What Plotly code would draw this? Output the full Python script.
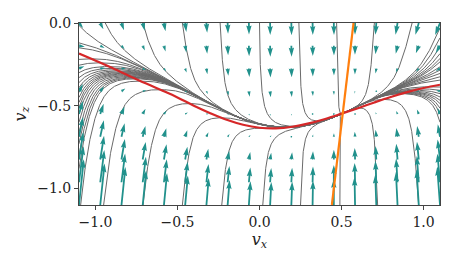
import numpy as np
import plotly.graph_objects as go

# ---------------- data ----------------
x_range = [-1.1, 1.1]
z_range = [-1.1, 0.0]
x_ticks = [-1.0, -0.5, 0.0, 0.5, 1.0]
x_tick_text = ["\u22121.0", "\u22120.5", "0.0", "0.5", "1.0"]
z_ticks = [-1.0, -0.5, 0.0]
z_tick_text = ["\u22121.0", "\u22120.5", "0.0"]

# red curve (terminal manifold)
red_vx = [-1.1, -0.9, -0.75, -0.6, -0.5, -0.4, -0.3, -0.2, -0.1, 0.0, 0.1, 0.2,
          0.3, 0.4, 0.5, 0.6, 0.7, 0.8, 0.9, 1.0, 1.1]
red_vz = [-0.184, -0.27, -0.34, -0.405, -0.45, -0.50, -0.545, -0.585, -0.615, -0.633,
          -0.637, -0.627, -0.607, -0.58, -0.548, -0.515, -0.48, -0.447, -0.418, -0.393, -0.373]

# orange straight line
orange_vx = [0.441, 0.573]
orange_vz = [-1.1, 0.0]

# quiver grid
quiver_vx = np.linspace(-1.1, 1.1, 18)
quiver_vz = np.linspace(-1.1, 0.0, 9)

# trajectory start points on the frame
start_top_vx = [-0.94, -0.71, -0.47, -0.24, 0.0, 0.24, 0.47, 0.70, 0.93]
start_bottom_vx = [-1.09, -0.95, -0.71, -0.47, -0.23, 0.02, 0.25, 0.49, 0.72, 0.97]
start_left_vz = [-0.015, -0.12, -0.15, -0.22, -0.255, -0.30, -0.33, -0.36, -0.39, -0.42,
                 -0.45, -0.48, -0.51, -0.55, -0.60, -0.66, -0.73, -0.80, -0.88]
start_right_vz = [-0.03, -0.09, -0.145, -0.185, -0.215, -0.235, -0.265, -0.285, -0.305,
                  -0.325, -0.345, -0.387, -0.407, -0.427, -0.447, -0.467, -0.487,
                  -0.515, -0.55, -0.60]

# model parameters (vector field)
DRAG = 2.52
KX_BASE, KX_NEAR, KX_TOPRIGHT = 0.25, 0.18, 0.5
NEAR_W = 0.15
SOFT_A, SOFT_B = 0.03, 0.10

# ---------------- vector field ----------------
red_vx_a = np.array(red_vx)
red_vz_a = np.array(red_vz)
o_slope = (orange_vx[1] - orange_vx[0]) / (orange_vz[1] - orange_vz[0])


def field(vx, vz):
    s = np.sqrt(vx ** 2 + vz ** 2)
    r = np.interp(vx, red_vx_a, red_vz_a)
    sr = np.sqrt(vx ** 2 + r ** 2)
    lift = 1.0 + DRAG * sr * r
    fz = -1.0 - DRAG * s * vz + lift
    dz = np.abs(vz - r)
    fz = fz * (dz + SOFT_A) / (dz + SOFT_B) * 1.08
    o = orange_vx[1] + o_slope * (vz - orange_vz[1])
    d = o - vx
    dsat = 1.2 * np.tanh(d / 1.2)
    right = 1.0 / (1.0 + np.exp(d / 0.05))
    k = (KX_BASE + KX_NEAR * np.exp(-((vz - r) / NEAR_W) ** 2)
         + KX_TOPRIGHT * right * np.clip(1.0 + vz / 0.5, 0, 1))
    fx = k * s * dsat
    return fx, fz


# ---------------- trajectories ----------------
starts = ([(x, 0.0) for x in start_top_vx] + [(x, -1.1) for x in start_bottom_vx]
          + [(-1.1, z) for z in start_left_vz] + [(1.1, z) for z in start_right_vz])
P = np.array(starts, dtype=float)
n = len(P)
ds = 0.003
alive = np.ones(n, bool)
paths = [[tuple(p)] for p in P]


def ndir(p):
    fx, fz = field(p[:, 0], p[:, 1])
    m = np.sqrt(fx ** 2 + fz ** 2) + 1e-12
    return np.stack([fx / m, fz / m], axis=1), m


for step in range(1500):
    k1, mag = ndir(P)
    k2, _ = ndir(P + 0.5 * ds * k1)
    k3, _ = ndir(P + 0.5 * ds * k2)
    k4, _ = ndir(P + ds * k3)
    Pn = P + ds / 6.0 * (k1 + 2 * k2 + 2 * k3 + k4)
    out = (Pn[:, 0] < -1.1001) | (Pn[:, 0] > 1.1001) | (Pn[:, 1] < -1.1001) | (Pn[:, 1] > 0.0001)
    alive &= ~out
    alive &= mag > 0.003
    for i in np.where(alive)[0]:
        paths[i].append((Pn[i, 0], Pn[i, 1]))
    P = np.where(alive[:, None], Pn, P)
    if not alive.any():
        break

sx, sz = [], []
for pth in paths:
    a = np.array(pth)
    sx += list(a[:, 0]) + [None]
    sz += list(a[:, 1]) + [None]

# ---------------- quiver arrows (matplotlib-like polygons) ----------------
PLOT_W, PLOT_H = 361.0, 182.0
PXX = PLOT_W / (x_range[1] - x_range[0])
PXZ = PLOT_H / (z_range[1] - z_range[0])
WIDTH = 1.8
SCALE = 12.0
HW, HL, HAL = 3.0, 5.0, 4.5

ax_list, az_list = [], []
GX, GZ = np.meshgrid(quiver_vx, quiver_vz)
FX, FZ = field(GX, GZ)
for x0, z0, u, v in zip(GX.ravel(), GZ.ravel(), FX.ravel(), FZ.ravel()):
    L = SCALE * np.hypot(u, v) / WIDTH
    if L < 1.0:
        th = np.arange(0, 8) * np.pi / 3.0
        X = np.cos(th) * 0.5
        Y = np.sin(th) * 0.5
    else:
        xs = np.array([0, -HAL, -HL, 0], float) + np.array([0, 1, 1, 1]) * L
        ys = 0.5 * np.array([1, 1, HW, 0], float)
        minsh = HL
        if L < minsh:
            xs = np.array([0, minsh - HAL, minsh - HL, minsh], float) * (L / minsh)
            ys = ys * (L / minsh)
        ii = [0, 1, 2, 3, 2, 1, 0]
        X = xs[ii]
        Y = ys[ii].copy()
        Y[3:] *= -1
    ang = np.arctan2(v, u)
    Xr = (X * np.cos(ang) - Y * np.sin(ang)) * WIDTH
    Yr = (X * np.sin(ang) + Y * np.cos(ang)) * WIDTH
    ax_list += list(x0 + Xr / PXX) + [None]
    az_list += list(z0 + Yr / PXZ) + [None]

# ---------------- figure ----------------
fig = go.Figure()
fig.add_trace(go.Scatter(x=sx, y=sz, mode="lines", line=dict(color="#6a6a6a", width=1.0),
                         hoverinfo="skip", showlegend=False))
fig.add_trace(go.Scatter(x=ax_list, y=az_list, mode="lines", fill="toself",
                         fillcolor="#21918c", line=dict(color="#21918c", width=0),
                         hoverinfo="skip", showlegend=False))
fig.add_trace(go.Scatter(x=red_vx, y=red_vz, mode="lines", line=dict(color="#d62728", width=2.2, shape="spline"),
                         showlegend=False))
fig.add_trace(go.Scatter(x=orange_vx, y=orange_vz, mode="lines", line=dict(color="#ff7f0e", width=2.2),
                         showlegend=False))

font_family = "DejaVu Serif"
axis_common = dict(showgrid=False, zeroline=False, ticks="outside", ticklen=4, tickwidth=1,
                   tickcolor="#444", showline=True, linecolor="#444", linewidth=1, mirror=True,
                   tickfont=dict(family=font_family, size=14, color="#222"))
fig.update_layout(
    width=463, height=261,
    margin=dict(l=79, r=23, t=23, b=56),
    plot_bgcolor="white", paper_bgcolor="white",
    xaxis=dict(range=x_range, tickvals=x_ticks, ticktext=x_tick_text,
               title=dict(text="<i>v</i><sub><i>x</i></sub>", font=dict(family=font_family, size=16, color="#222"),
                          standoff=4), **axis_common),
    yaxis=dict(range=z_range, tickvals=z_ticks, ticktext=z_tick_text,
               title=dict(text="<i>v</i><sub><i>z</i></sub>", font=dict(family=font_family, size=16, color="#222"),
                          standoff=6), **axis_common),
)
fig.write_html("out.html")
